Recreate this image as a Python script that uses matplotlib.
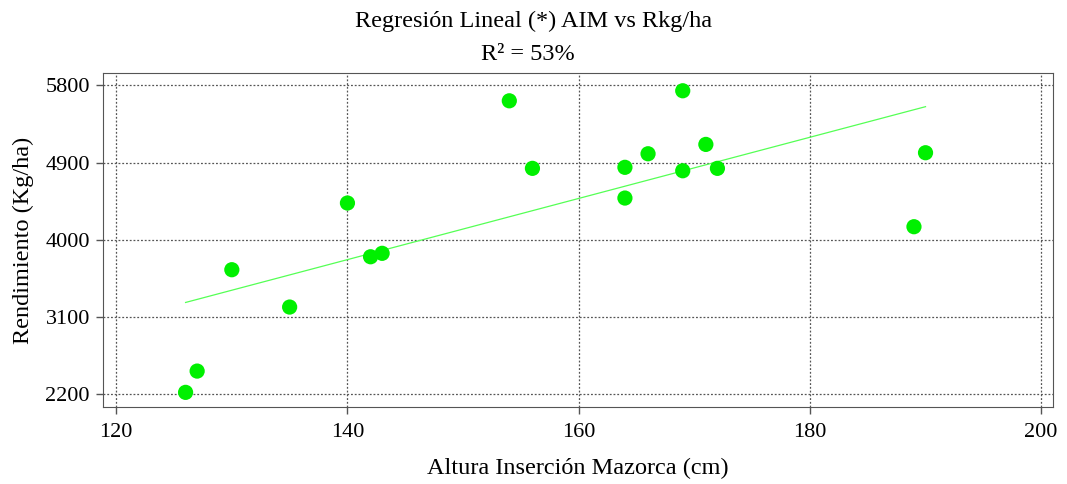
import numpy as np
import matplotlib
matplotlib.use("Agg")
import matplotlib.pyplot as plt

# datos
aim = [126, 127, 130, 135, 140, 142, 143, 154, 156, 164, 164, 166, 169, 169, 171, 172, 189, 190]
rend = [2223, 2471, 3652, 3217, 4429, 3803, 3843, 5620, 4833, 4845, 4487, 5003, 5737, 4805, 5112, 4833, 4153, 5015]
xticks = [120, 140, 160, 180, 200]
yticks = [2200, 3100, 4000, 4900, 5800]

plt.rcParams['font.family'] = ['Liberation Serif', 'DejaVu Serif']

fig = plt.figure(figsize=(10.67, 4.84), dpi=100)
ax = fig.add_axes([0.097, 0.159, 0.8896, 0.69])

# recta de regresion
b, a = np.polyfit(aim, rend, 1)
xs = np.array([min(aim), max(aim)])
ax.plot(xs, a + b * xs, color='#55ff55', lw=0.9, zorder=2)

ax.scatter(aim, rend, s=120, color='#00f000', edgecolors='none', zorder=3)

ax.set_xlim(118.9, 201.0)
ax.set_ylim(2052, 5943)
ax.set_xticks(xticks)
ax.set_yticks(yticks)
ax.grid(True, linestyle=(0, (1.5, 1.5)), color='#555555', lw=0.9)
ax.set_axisbelow(True)
for s in ax.spines.values():
    s.set_color('#555555')
ax.tick_params(labelsize=16, length=5, color='#555555', width=1)
ax.tick_params(axis='x', pad=6.5)
ax.tick_params(axis='y', pad=4.8)

ax.set_xlabel('Altura Inserción Mazorca (cm)', fontsize=17.5, va='baseline')
ax.xaxis.set_label_coords(0.5, -0.2006)
ax.set_ylabel('Rendimiento (Kg/ha)', fontsize=17.5)
ax.yaxis.set_label_coords(-0.073, 0.5)

fig.text(0.5, 0.945, 'Regresión Lineal (*) AIM vs Rkg/ha', ha='center', va='baseline', fontsize=17.5)
fig.text(0.495, 0.876, 'R² = 53%', ha='center', va='baseline', fontsize=17.5)

fig.savefig('out.png', dpi=100)
